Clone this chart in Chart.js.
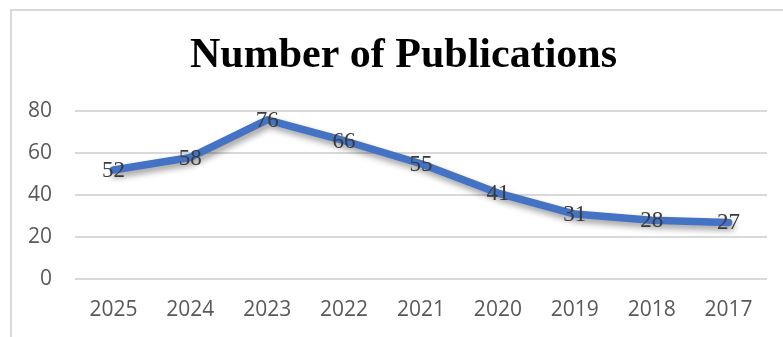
<!DOCTYPE html>
<html>
<head>
<meta charset="utf-8">
<script src="https://cdn.jsdelivr.net/npm/chart.js@4/dist/chart.umd.min.js"></script>
<style>
    html, body { margin: 0; padding: 0; background: #fff; }
    #wrap { position: relative; width: 783px; height: 337px; overflow: hidden; }
    #frame {
        position: absolute; left: 10px; top: 9px; width: 800px; height: 360px;
        border: 2px solid #d9d9d9; box-sizing: border-box;
    }
    #canvas { position: absolute; left: 0; top: 0; }
</style>
</head>
<body>
<div id="wrap">
    <div id="frame"></div>
    <canvas id="canvas" width="783" height="337"></canvas>
</div>
<script>
'use strict';

var years = ['2025', '2024', '2023', '2022', '2021', '2020', '2019', '2018', '2017'];
var publications = [52, 58, 76, 66, 55, 41, 31, 28, 27];
var yTicks = [0, 20, 40, 60, 80];

// soft drop shadow under the line, like the office chart style
var lineShadow = {
    id: 'lineShadow',
    beforeDatasetDraw: function (chart) {
        var ctx = chart.ctx;
        ctx.save();
        ctx.shadowColor = 'rgba(0, 0, 0, 0.38)';
        ctx.shadowBlur = 6;
        ctx.shadowOffsetX = 2;
        ctx.shadowOffsetY = 4;
    },
    afterDatasetDraw: function (chart) {
        chart.ctx.restore();
    }
};

// centre the title on the framed box instead of the whole canvas
var titleCenter = {
    id: 'titleCenter',
    afterLayout: function (chart) {
        if (chart.titleBlock) chart.titleBlock.left = 40;
    }
};

// value printed right on top of each point
var valueLabels = {
    id: 'valueLabels',
    afterDatasetsDraw: function (chart) {
        var ctx = chart.ctx,
            meta = chart.getDatasetMeta(0),
            data = chart.data.datasets[0].data;
        ctx.save();
        ctx.font = '23px "Liberation Serif", "Times New Roman", serif';
        ctx.fillStyle = '#3a3a3a';
        ctx.textAlign = 'center';
        ctx.textBaseline = 'middle';
        meta.data.forEach(function (pt, i) {
            ctx.fillText(String(data[i]), pt.x, pt.y + 1);
        });
        ctx.restore();
    }
};

var chart = new Chart(document.getElementById('canvas').getContext('2d'), {
    type: 'line',
    data: {
        labels: years,
        datasets: [{
            data: publications,
            borderColor: '#4472C4',
            borderWidth: 7.5,
            borderCapStyle: 'round',
            borderJoinStyle: 'round',
            pointRadius: 0,
            pointHoverRadius: 0,
            tension: 0,
            fill: false
        }]
    },
    options: {
        responsive: false,
        animation: false,
        events: [],
        layout: {
            padding: {left: 0, right: 16, top: 0, bottom: 0}
        },
        plugins: {
            legend: {display: false},
            tooltip: {enabled: false},
            title: {
                display: true,
                text: 'Number of Publications',
                color: '#000',
                font: {family: '"Liberation Serif", "Times New Roman", serif', size: 42, weight: 'bold', lineHeight: 1.2},
                padding: {top: 31, bottom: 30}
            }
        },
        scales: {
            x: {
                offset: true,
                afterFit: function (scale) { scale.height = 58; },
                grid: {display: false, drawTicks: false},
                border: {display: false},
                ticks: {
                    color: '#595959',
                    font: {family: '"Open Sans", sans-serif', size: 21},
                    padding: 18,
                    maxRotation: 0
                }
            },
            y: {
                min: 0,
                max: 80,
                afterFit: function (scale) { scale.width = 75; },
                afterBuildTicks: function (scale) {
                    scale.ticks = yTicks.map(function (v) { return {value: v}; });
                },
                grid: {color: '#d9d9d9', lineWidth: 2, drawTicks: false},
                border: {display: false},
                ticks: {
                    color: '#595959',
                    font: {family: '"Open Sans", sans-serif', size: 21},
                    padding: 23
                }
            }
        }
    },
    plugins: [lineShadow, titleCenter, valueLabels]
});
</script>
</body>
</html>
